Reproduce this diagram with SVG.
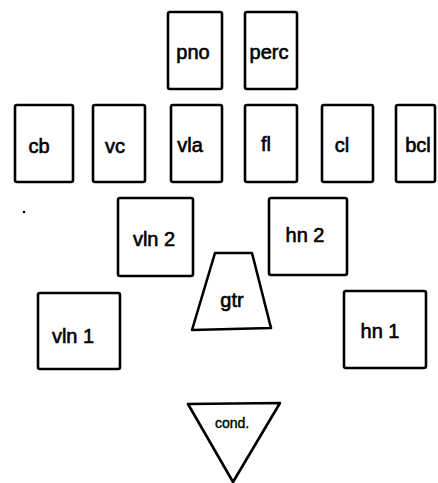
<svg xmlns="http://www.w3.org/2000/svg" width="438" height="483" viewBox="0 0 438 483">
  <style>
    .box { fill: none; stroke: #000; stroke-width: 2.6; stroke-linejoin: round; }
    .lbl { font-family: "Liberation Sans", "DejaVu Sans", sans-serif; font-size: 20px; fill: #000; stroke: #000; stroke-width: 0.6; text-anchor: middle; dominant-baseline: central; }
    .small { font-size: 14px; stroke-width: 0.4; }
  </style>
  <rect width="438" height="483" fill="#fff"/>

  <!-- back row -->
  <g id="pno"><rect class="box" x="168" y="12" width="54" height="77" rx="2"/><text class="lbl" x="193" y="52">pno</text></g>
  <g id="perc"><rect class="box" x="245" y="12" width="52" height="77" rx="2"/><text class="lbl" x="269" y="52">perc</text></g>

  <!-- second row -->
  <g id="cb"><rect class="box" x="15" y="105" width="58" height="77" rx="2"/><text class="lbl" x="39" y="146">cb</text></g>
  <g id="vc"><rect class="box" x="93" y="105" width="52" height="77" rx="2"/><text class="lbl" x="115" y="146">vc</text></g>
  <g id="vla"><rect class="box" x="171" y="105" width="51" height="77" rx="2"/><text class="lbl" x="190" y="145">vla</text></g>
  <g id="fl"><rect class="box" x="245" y="105" width="52" height="77" rx="2"/><text class="lbl" x="266" y="144">fl</text></g>
  <g id="cl"><rect class="box" x="322" y="105" width="51" height="77" rx="2"/><text class="lbl" x="342" y="145">cl</text></g>
  <g id="bcl"><rect class="box" x="396" y="105" width="39" height="77" rx="2"/><text class="lbl" x="418" y="145">bcl</text></g>

  <!-- stray dot -->
  <circle cx="24" cy="212" r="1.3" fill="#000"/>

  <!-- third row -->
  <g id="vln2"><rect class="box" x="118" y="198" width="75" height="78" rx="2"/><text class="lbl" x="154" y="239">vln 2</text></g>
  <g id="hn2"><rect class="box" x="269" y="198" width="78" height="77" rx="2"/><text class="lbl" x="305" y="235">hn 2</text></g>

  <!-- guitar -->
  <g id="gtr"><path class="box" d="M215 253 L252 253 L271 328 L192 330 Z"/><text class="lbl" x="232" y="300">gtr</text></g>

  <!-- front row -->
  <g id="vln1"><rect class="box" x="38" y="293" width="82" height="76" rx="2"/><text class="lbl" x="73" y="336">vln 1</text></g>
  <g id="hn1"><rect class="box" x="344" y="291" width="82" height="77" rx="2"/><text class="lbl" x="380" y="331">hn 1</text></g>

  <!-- conductor -->
  <g id="cond"><path class="box" d="M188 404 L280 403 L233 482 Z"/><text class="lbl small" x="232" y="423">cond.</text></g>

  <g id="connectors"></g>
</svg>
